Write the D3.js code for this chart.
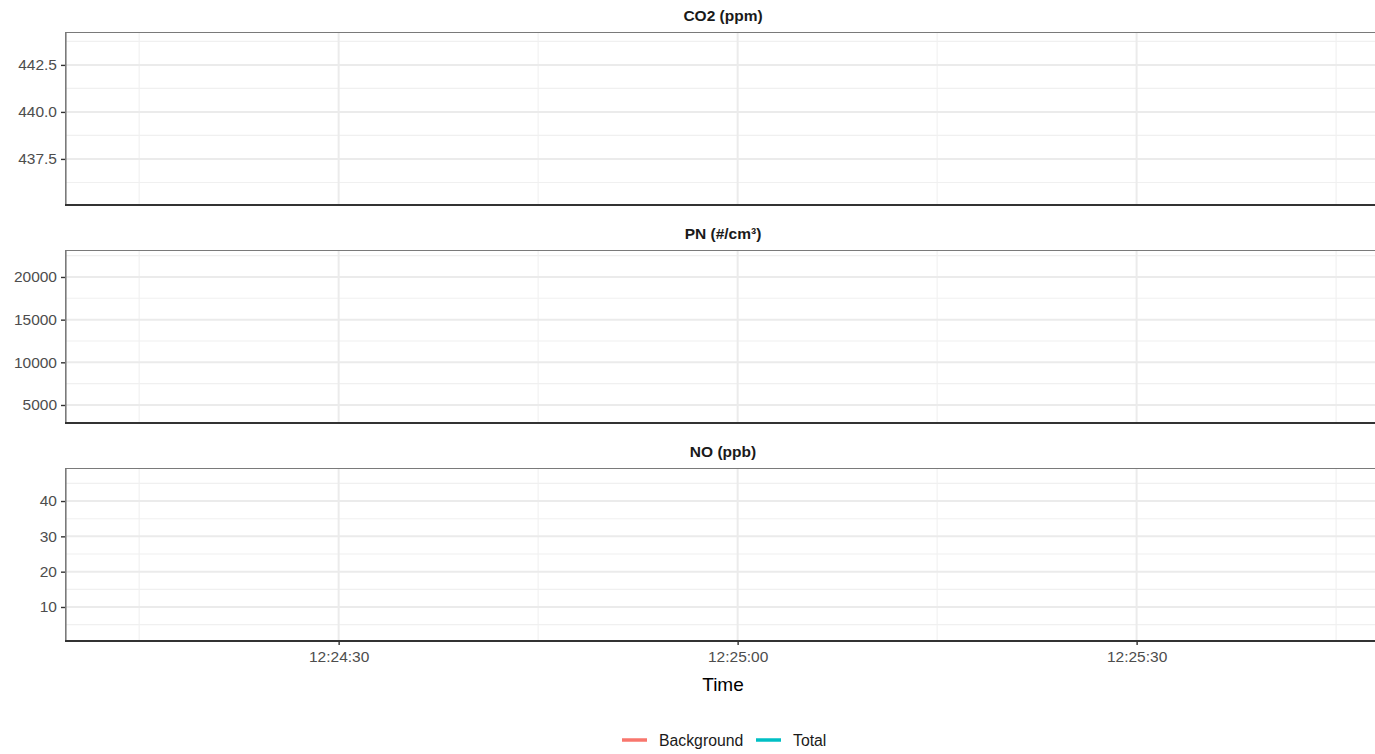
<!DOCTYPE html>
<html>
<head>
<meta charset="utf-8">
<script src="https://cdn.jsdelivr.net/npm/d3@7"></script>
<style>
  html, body { margin: 0; padding: 0; background: #fff; }
  svg { display: block; font-family: "Liberation Sans", Arial, sans-serif; }
</style>
</head>
<body>
<svg id="chart" width="1375" height="754"></svg>
<script>
// Facet panels, top to bottom
const panelTitles = ["CO2 (ppm)", "PN (#/cm³)", "NO (ppb)"];
const panelDomains = [[435.05, 444.25], [2890, 23160], [0.37, 49.35]];
const panelTicks = [[437.5, 440.0, 442.5], [5000, 10000, 15000, 20000], [10, 20, 30, 40]];
const panelMinorTicks = [[436.25, 438.75, 441.25, 443.75], [2500, 7500, 12500, 17500, 22500], [5, 15, 25, 35, 45]];
const panelTickFormats = [".1f", "d", "d"];

// Time axis (seconds of 12:24:00 .. 12:26:00)
const timeDomain = ["12:24:09.5", "12:25:48.3"];
const timeTicks = ["12:24:30", "12:25:00", "12:25:30"];
const timeMinorTicks = ["12:24:15", "12:24:45", "12:25:15", "12:25:45"];

// Legend categories and colours
const seriesNames = ["Background", "Total"];
const seriesColors = ["#F8766D", "#00BFC4"];

// Measured series per panel: arrays of [time, value]; none recorded in this window
const backgroundCO2 = [], totalCO2 = [];
const backgroundPN = [], totalPN = [];
const backgroundNO = [], totalNO = [];
const panelSeries = [[backgroundCO2, totalCO2], [backgroundPN, totalPN], [backgroundNO, totalNO]];

const parseTime = s => {
  const [h, m, sec] = s.split(":").map(Number);
  return new Date(Date.UTC(2000, 0, 1, h, m, 0) + sec * 1000);
};

const svg = d3.select("#chart");
const left = 66, right = 1380;
const panelTops = [32, 250, 468];
const panelHeight = 173;
const tickFont = "15.5px";

const x = d3.scaleUtc().domain(timeDomain.map(parseTime)).range([left, right]);

panelTitles.forEach((title, i) => {
  const top = panelTops[i], bottom = top + panelHeight;
  const y = d3.scaleLinear().domain(panelDomains[i]).range([bottom, top]);
  const g = svg.append("g");

  // minor grid
  g.selectAll(".hminor").data(panelMinorTicks[i].filter(v => v > panelDomains[i][0] && v < panelDomains[i][1]))
    .join("line")
    .attr("x1", left).attr("x2", right)
    .attr("y1", d => y(d)).attr("y2", d => y(d))
    .attr("stroke", "#f0f0f0").attr("stroke-width", 1.1);
  g.selectAll(".vminor").data(timeMinorTicks.map(parseTime))
    .join("line")
    .attr("x1", d => x(d)).attr("x2", d => x(d))
    .attr("y1", top).attr("y2", bottom)
    .attr("stroke", "#f0f0f0").attr("stroke-width", 1.1);
  // major grid
  g.selectAll(".hmajor").data(panelTicks[i])
    .join("line")
    .attr("x1", left).attr("x2", right)
    .attr("y1", d => y(d)).attr("y2", d => y(d))
    .attr("stroke", "#ebebeb").attr("stroke-width", 2);
  g.selectAll(".vmajor").data(timeTicks.map(parseTime))
    .join("line")
    .attr("x1", d => x(d)).attr("x2", d => x(d))
    .attr("y1", top).attr("y2", bottom)
    .attr("stroke", "#ebebeb").attr("stroke-width", 2);

  // series lines
  const line = d3.line().x(d => x(parseTime(d[0]))).y(d => y(d[1]));
  panelSeries[i].forEach((data, k) => {
    if (data.length) {
      g.append("path").datum(data).attr("d", line)
        .attr("fill", "none").attr("stroke", seriesColors[k]).attr("stroke-width", 1);
    }
  });

  // panel border (top and left), axis line at bottom
  g.append("line").attr("x1", left).attr("x2", right).attr("y1", top + 0.5).attr("y2", top + 0.5)
    .attr("stroke", "#7a7a7a").attr("stroke-width", 1.2);
  g.append("line").attr("x1", left - 0.2).attr("x2", left - 0.2).attr("y1", top).attr("y2", bottom)
    .attr("stroke", "#7a7a7a").attr("stroke-width", 1.6);
  g.append("line").attr("x1", left - 1).attr("x2", right).attr("y1", bottom).attr("y2", bottom)
    .attr("stroke", "#333333").attr("stroke-width", 2);

  // y axis
  const yAxis = d3.axisLeft(y).tickValues(panelTicks[i]).tickFormat(d3.format(panelTickFormats[i]))
    .tickSize(4).tickPadding(4);
  const ya = g.append("g").attr("transform", `translate(${left - 1},0)`).call(yAxis);
  ya.select(".domain").remove();
  ya.selectAll(".tick line").attr("stroke", "#333").attr("stroke-width", 1.4);
  ya.selectAll(".tick text").attr("fill", "#4d4d4d").style("font-size", tickFont)
    .style("font-family", "'Liberation Sans', Arial, sans-serif");

  // x axis ticks on each panel bottom; labels only on the last
  const xAxis = d3.axisBottom(x).tickValues(timeTicks.map(parseTime))
    .tickFormat(i === panelTitles.length - 1 ? d3.utcFormat("%H:%M:%S") : "")
    .tickSize(i === panelTitles.length - 1 ? 4 : 0).tickPadding(6);
  const xa = g.append("g").attr("transform", `translate(0,${bottom})`).call(xAxis);
  xa.select(".domain").remove();
  xa.selectAll(".tick line").attr("stroke", "#333").attr("stroke-width", 1.4);
  xa.selectAll(".tick text").attr("fill", "#4d4d4d").style("font-size", tickFont)
    .style("font-family", "'Liberation Sans', Arial, sans-serif");

  // strip title
  svg.append("text").attr("x", (left + right) / 2).attr("y", top - 11)
    .attr("text-anchor", "middle").attr("fill", "#1a1a1a")
    .style("font-size", "15.5px").style("font-weight", "bold")
    .text(title);
});

// x axis title
svg.append("text").attr("x", (left + right) / 2).attr("y", 691)
  .attr("text-anchor", "middle").attr("fill", "#000")
  .style("font-size", "19px").text("Time");

// legend
const legendItems = [
  { name: seriesNames[0], color: seriesColors[0], x: 622 },
  { name: seriesNames[1], color: seriesColors[1], x: 756 }
];
const lg = svg.append("g");
legendItems.forEach(item => {
  lg.append("line").attr("x1", item.x).attr("x2", item.x + 25).attr("y1", 740).attr("y2", 740)
    .attr("stroke", item.color).attr("stroke-width", 3.5);
  lg.append("text").attr("x", item.x + 37).attr("y", 746).attr("fill", "#1a1a1a")
    .style("font-size", "15.8px").text(item.name);
});
</script>
</body>
</html>
